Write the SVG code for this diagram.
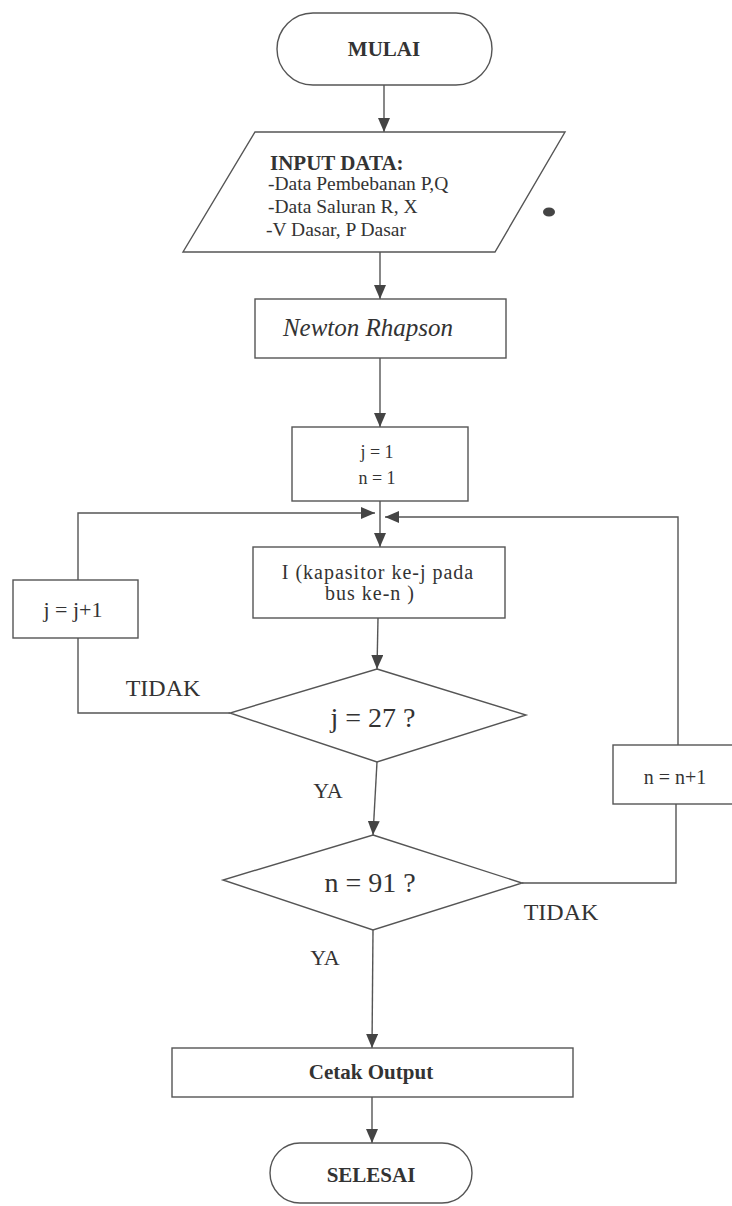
<svg xmlns="http://www.w3.org/2000/svg" width="732" height="1206" viewBox="0 0 732 1206">
<defs>
<marker id="ah" viewBox="0 0 14 12" refX="14" refY="6" markerWidth="14" markerHeight="12" markerUnits="userSpaceOnUse" orient="auto">
<path d="M0,0 L14,6 L0,12 z" fill="#444"/>
</marker>
</defs>
<style>
.s{fill:#fff;stroke:#555;stroke-width:1.4}
.c{fill:none;stroke:#555;stroke-width:1.4}
.a{marker-end:url(#ah)}
text{font-family:"Liberation Serif","Times New Roman",serif;fill:#333}
.m{text-anchor:middle}
.b{font-weight:bold}
</style>
<rect width="732" height="1206" fill="#fff"/>
<g id="connectors">
<path class="c a" d="M384,85 V132"/>
<path class="c a" d="M380,252 V299"/>
<path class="c a" d="M380,358 V427"/>
<path class="c a" d="M380,501 V547"/>
<path class="c" d="M230,713 H78 V638"/>
<path class="c a" d="M78,580 V513 H375"/>
<path class="c" d="M522,883 H676 V804"/>
<path class="c a" d="M678,745 V517 H385"/>
<path class="c a" d="M378,618 L377,669"/>
<path class="c a" d="M377,762 L373,835"/>
<path class="c a" d="M373,930 L372,1048"/>
<path class="c a" d="M372,1097 V1143"/>
</g>
<g id="mulai">
<rect class="s" x="277" y="13" width="215" height="72" rx="36"/>
<text class="m b" x="384" y="56" font-size="21">MULAI</text>
</g>
<g id="input">
<polygon class="s" points="255,132 565,132 495,252 183,252"/>
<text class="b" x="270" y="170" font-size="21">INPUT DATA:</text>
<text x="268" y="190" font-size="19.5">-Data Pembebanan P,Q</text>
<text x="268" y="213" font-size="19.5">-Data Saluran R, X</text>
<text x="266" y="236" font-size="19.5">-V Dasar, P Dasar</text>
<ellipse cx="549" cy="212" rx="6" ry="4.5" fill="#444"/>
</g>
<g id="newton">
<rect class="s" x="255" y="299" width="251" height="59"/>
<text class="m" x="368" y="336" font-size="25" font-style="italic">Newton Rhapson</text>
</g>
<g id="init">
<rect class="s" x="292" y="427" width="176" height="74"/>
<text class="m" x="377" y="458" font-size="18">j = 1</text>
<text class="m" x="377" y="484" font-size="18">n = 1</text>
</g>
<g id="kapasitor">
<rect class="s" x="253" y="547" width="252" height="71"/>
<text class="m" x="378" y="579" font-size="20" letter-spacing="1">I (kapasitor ke-j pada</text>
<text class="m" x="370" y="600" font-size="20" letter-spacing="1">bus ke-n )</text>
</g>
<g id="jinc">
<rect class="s" x="13" y="580" width="125" height="58"/>
<text class="m" x="73" y="617" font-size="22">j = j+1</text>
</g>
<g id="dj">
<polygon class="s" points="377,669 526,715 377,762 230,713"/>
<text class="m" x="373" y="727" font-size="28">j = 27 ?</text>
</g>
<g id="ninc">
<rect class="s" x="613" y="745" width="125" height="59"/>
<text class="m" x="675" y="784" font-size="20">n = n+1</text>
</g>
<g id="dn">
<polygon class="s" points="373,835 522,883 373,930 223,880"/>
<text class="m" x="370" y="892" font-size="28">n = 91 ?</text>
</g>
<g id="labels">
<text class="m" x="163" y="696" font-size="24">TIDAK</text>
<text class="m" x="328" y="798" font-size="22">YA</text>
<text class="m" x="561" y="920" font-size="24">TIDAK</text>
<text class="m" x="325" y="965" font-size="22">YA</text>
</g>
<g id="cetak">
<rect class="s" x="172" y="1048" width="401" height="49"/>
<text class="m b" x="371" y="1079" font-size="21">Cetak Output</text>
</g>
<g id="selesai">
<rect class="s" x="270" y="1143" width="202" height="60" rx="30"/>
<text class="m b" x="371" y="1182" font-size="21">SELESAI</text>
</g>
</svg>
